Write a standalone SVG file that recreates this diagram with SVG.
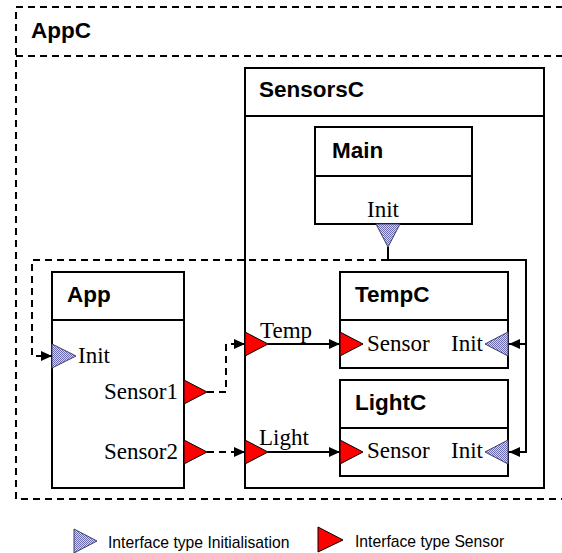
<svg xmlns="http://www.w3.org/2000/svg" width="562" height="553" viewBox="0 0 562 553">
<style>
.box{fill:#fff;stroke:#000;stroke-width:2}
.hdr{stroke:#000;stroke-width:2;fill:none}
.dash{fill:none;stroke:#000;stroke-width:2;stroke-dasharray:7 5}
.title{font-family:"Liberation Sans",Arial,sans-serif;font-weight:bold;font-size:22.5px;fill:#000}
.port{font-family:"Liberation Serif","Times New Roman",serif;font-size:23px;fill:#000}
.leg{font-family:"Liberation Sans",Arial,sans-serif;font-size:15.7px;fill:#000}
.sens{fill:#ff0000;stroke:#000;stroke-width:1}
.init{fill:url(#dots);stroke:#404060;stroke-width:1}
.wire{fill:none;stroke:#000;stroke-width:2}
.dwire{fill:none;stroke:#000;stroke-width:2;stroke-dasharray:7 5}
</style>
<defs>
<pattern id="dots" width="2" height="2" patternUnits="userSpaceOnUse">
<rect width="2" height="2" fill="#d4d4f0"/>
<rect width="1" height="1" fill="#6c6cb4"/>
<rect x="1" y="1" width="1" height="1" fill="#6c6cb4"/>
</pattern>
<marker id="arr" markerWidth="11" markerHeight="10" refX="11" refY="5" orient="auto" markerUnits="userSpaceOnUse">
<path d="M0,0 L11,5 L0,10 Z" fill="#000"/>
</marker>
</defs>

<g id="AppC">
<rect x="16" y="7" width="570" height="492" class="dash"/>
<line x1="16" y1="56" x2="562" y2="56" class="dash"/>
<text x="31" y="38" class="title">AppC</text>
</g>

<g id="SensorsC">
<rect x="245" y="68" width="299" height="420" class="box"/>
<line x1="245" y1="116" x2="544" y2="116" class="hdr"/>
<text x="259" y="97" class="title">SensorsC</text>
</g>

<g id="Main">
<rect x="315" y="127" width="157" height="97" class="box"/>
<line x1="315" y1="176" x2="472" y2="176" class="hdr"/>
<text x="332" y="158" class="title">Main</text>
<text x="383" y="217" class="port" text-anchor="middle">Init</text>
<polygon points="376,224 400,224 388,247" class="init"/>
</g>

<g id="App">
<rect x="52" y="272" width="132" height="216" class="box"/>
<line x1="52" y1="320" x2="184" y2="320" class="hdr"/>
<text x="67" y="302" class="title">App</text>
<polygon points="52,344 52,368 76,356" class="init"/>
<text x="78" y="363" class="port">Init</text>
<text x="178" y="399" class="port" text-anchor="end">Sensor1</text>
<polygon points="184,380 184,404 207,392" class="sens"/>
<text x="178" y="459" class="port" text-anchor="end">Sensor2</text>
<polygon points="184,440 184,464 207,452" class="sens"/>
</g>

<g id="TempC">
<rect x="340" y="272" width="168" height="96" class="box"/>
<line x1="340" y1="320" x2="508" y2="320" class="hdr"/>
<text x="355" y="302" class="title">TempC</text>
<polygon points="340,332 340,356 363,344" class="sens"/>
<text x="367" y="351" class="port">Sensor</text>
<text x="483" y="351" class="port" text-anchor="end">Init</text>
<polygon points="508,332 508,356 485,344" class="init"/>
</g>

<g id="LightC">
<rect x="340" y="380" width="168" height="96" class="box"/>
<line x1="340" y1="428" x2="508" y2="428" class="hdr"/>
<text x="355" y="410" class="title">LightC</text>
<polygon points="340,440 340,464 363,452" class="sens"/>
<text x="367" y="458" class="port">Sensor</text>
<text x="483" y="458" class="port" text-anchor="end">Init</text>
<polygon points="508,440 508,464 485,452" class="init"/>
</g>

<g id="SensorsC-ports">
<polygon points="245,332 245,356 268,344" class="sens"/>
<text x="260" y="338" class="port">Temp</text>
<polygon points="245,440 245,464 268,452" class="sens"/>
<text x="259" y="445" class="port">Light</text>
</g>

<g id="connectors">
<path d="M388,247 V260 H526 V452 H509" class="wire" marker-end="url(#arr)"/>
<path d="M526,344 H509" class="wire" marker-end="url(#arr)"/>
<path d="M388,260 H32 V356 H52" class="dwire" marker-end="url(#arr)"/>
<path d="M207,392 H226 V344 H245" class="dwire" marker-end="url(#arr)"/>
<path d="M207,452 H245" class="dwire" marker-end="url(#arr)"/>
<path d="M268,344 H340" class="wire" marker-end="url(#arr)"/>
<path d="M268,452 H340" class="wire" marker-end="url(#arr)"/>
</g>

<g id="legend">
<polygon points="74,529 74,553 97,541" class="init"/>
<text x="108" y="548" class="leg">Interface type Initialisation</text>
<polygon points="318,527 318,552 343,540" class="sens"/>
<text x="355" y="547" class="leg">Interface type Sensor</text>
</g>
</svg>
